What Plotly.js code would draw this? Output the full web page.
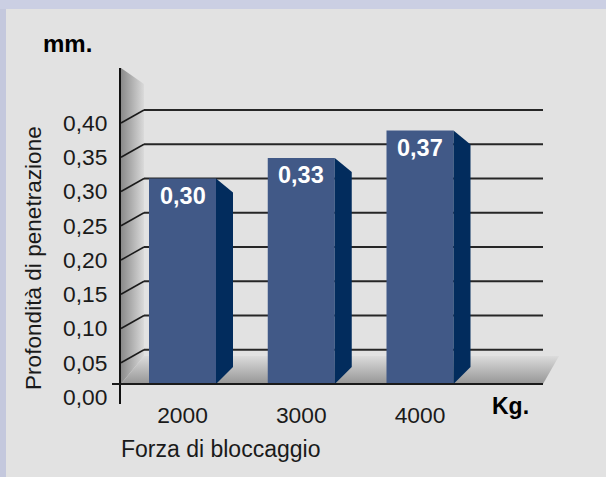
<!DOCTYPE html>
<html>
<head>
<meta charset="utf-8">
<script src="https://cdn.plot.ly/plotly-3.0.1.min.js"></script>
<style>html,body{margin:0;padding:0;background:#e2e2e2;}#chart{width:606px;height:477px;}</style>
</head>
<body>
<div id="chart"></div>
<script>
// ---- data ----
const categories = ['2000', '3000', '4000'];
const values = [0.30, 0.33, 0.37];
const yTicks = [0, 0.05, 0.10, 0.15, 0.20, 0.25, 0.30, 0.35, 0.40];
const yTitle = 'Profondità di penetrazione';
const xTitle = 'Forza di bloccaggio';
const yUnit = 'mm.';
const xUnit = 'Kg.';

// ---- geometry (pixels) ----
const W = 606, H = 477;
const L = 121, R = 560, T = 68, B = 404;
const PW = R - L, PH = B - T;
const ZERO_PX = 384;          // back zero line
const KY = (384 - 110) / 0.40; // px per value unit
const SHIFT = 13;             // front labels sit lower than back gridlines
const CX0 = 182.5, KX = 118.75; // first category centre and spacing
const d = SHIFT / KY;
const Y2 = [(ZERO_PX - B) / KY, (ZERO_PX - T) / KY];
const Y1 = [Y2[0] + d, Y2[1] + d];
const XR = [(L - CX0) / KX, (R - CX0) / KX];
const BW = 67 / KX, SDX = 17 / KX, STOP = 14 / KY, SBOT = 17 / KY;

const px = p => (p - L) / PW;           // paper x
const py = p => (B - p) / PH;           // paper y
const dx = p => (p - CX0) / KX;         // data x
const dyMain = p => (ZERO_PX - p) / KY + d; // main y axis data
const fmt = v => v.toFixed(2).replace('.', ',');
const FONT = 'Liberation Sans, Arial, Helvetica, sans-serif';

const xIdx = categories.map((c, i) => i);
const traces = [];

// wall and floor (main subplot, underneath bars)
const wallPx = [[121, 68], [144, 84], [144, 356], [121, 384], [121, 68]];
traces.push({
  type: 'scatter', x: wallPx.map(p => dx(p[0])), y: wallPx.map(p => dyMain(p[1])),
  xaxis: 'x', yaxis: 'y', mode: 'lines', fill: 'toself', line: {width: 0},
  fillgradient: {type: 'horizontal', colorscale: [[0, '#8a8a8a'], [1, '#dadada']]},
  hoverinfo: 'skip', showlegend: false
});
const floorPx = [[121, 384], [144, 356], [559, 356], [543, 384], [121, 384]];
traces.push({
  type: 'scatter', x: floorPx.map(p => dx(p[0])), y: floorPx.map(p => dyMain(p[1])),
  xaxis: 'x', yaxis: 'y', mode: 'lines', fill: 'toself', line: {width: 0},
  fillgradient: {type: 'vertical', colorscale: [[0, '#969696'], [1, '#dcdcdc']]},
  hoverinfo: 'skip', showlegend: false
});

// bars (overlay subplot)
traces.push({
  type: 'bar', x: xIdx, y: values, width: BW, xaxis: 'x', yaxis: 'y2',
  marker: {color: '#415987', line: {width: 0}}, hoverinfo: 'skip', showlegend: false
});
// bar side faces
values.forEach((v, i) => {
  const xr = xIdx[i] + BW / 2;
  traces.push({
    type: 'scatter', xaxis: 'x', yaxis: 'y2', mode: 'lines',
    x: [xr, xr + SDX, xr + SDX, xr, xr],
    y: [v, v - STOP, SBOT, 0, v],
    fill: 'toself', fillcolor: '#022c5d', line: {width: 0},
    hoverinfo: 'skip', showlegend: false
  });
});

const shapes = [];
// background bands
shapes.push({type: 'rect', xref: 'paper', yref: 'paper', x0: px(0), x1: px(W), y0: py(0), y1: py(9),
  fillcolor: '#cbcfe3', line: {width: 0}, layer: 'below'});
shapes.push({type: 'rect', xref: 'paper', yref: 'paper', x0: px(0), x1: px(6), y0: py(9), y1: py(H),
  fillcolor: '#c4c8dd', line: {width: 0}, layer: 'below'});
// gridlines on back wall
yTicks.slice(1).forEach(v => {
  shapes.push({type: 'line', xref: 'paper', yref: 'y2', x0: px(144), x1: px(543), y0: v, y1: v,
    line: {color: '#262626', width: 2}, layer: 'below'});
  shapes.push({type: 'line', xref: 'paper', yref: 'y2', x0: px(121), x1: px(144), y0: v - d, y1: v,
    line: {color: '#1a1a1a', width: 1.5}, layer: 'above'});
});
// front zero line
shapes.push({type: 'line', xref: 'paper', yref: 'y2', x0: px(112), x1: px(543), y0: 0, y1: 0,
  line: {color: '#1a1a1a', width: 2}, layer: 'above'});

const annotations = [];
values.forEach((v, i) => annotations.push({
  xref: 'x', yref: 'y2', x: xIdx[i], y: v, yshift: -17, text: fmt(v), showarrow: false,
  xanchor: 'center', yanchor: 'middle', font: {family: FONT, size: 23.5, color: '#ffffff', weight: 'bold'}
}));
annotations.push({xref: 'paper', yref: 'paper', x: px(67), y: py(43), text: '<b>' + yUnit + '</b>', showarrow: false,
  xanchor: 'center', yanchor: 'middle', font: {family: FONT, size: 24, color: '#000'}});
annotations.push({xref: 'paper', yref: 'paper', x: px(510), y: py(406), text: '<b>' + xUnit + '</b>', showarrow: false,
  xanchor: 'center', yanchor: 'middle', font: {family: FONT, size: 23, color: '#000'}});
annotations.push({xref: 'paper', yref: 'paper', x: px(119), y: py(449), text: xTitle, showarrow: false,
  xanchor: 'left', yanchor: 'middle', font: {family: FONT, size: 23, color: '#1a1a1a'}});
annotations.push({xref: 'paper', yref: 'paper', x: px(33), y: py(258), text: yTitle, showarrow: false, textangle: -90,
  xanchor: 'center', yanchor: 'middle', font: {family: FONT, size: 22.6, color: '#1a1a1a'}});

const layout = {
  width: W, height: H,
  margin: {l: L, r: W - R, t: T, b: H - B, pad: 0},
  paper_bgcolor: '#e2e2e2', plot_bgcolor: 'rgba(0,0,0,0)',
  separators: ',.',
  showlegend: false,
  xaxis: {range: XR, tickvals: xIdx, ticktext: categories, showgrid: false, zeroline: false,
    showline: false, ticks: '', ticklabelstandoff: -5, fixedrange: true,
    tickfont: {family: FONT, size: 22.8, color: '#1a1a1a'}},
  yaxis: {range: Y1, tickvals: yTicks, tickformat: '.2f', showgrid: false, zeroline: false,
    showline: true, linecolor: '#111', linewidth: 2, ticks: '', ticklabelstandoff: 7, fixedrange: true,
    tickfont: {family: FONT, size: 22.8, color: '#1a1a1a'}},
  yaxis2: {range: Y2, overlaying: 'y', showgrid: false, zeroline: false, showline: false,
    showticklabels: false, ticks: '', fixedrange: true},
  shapes: shapes,
  annotations: annotations
};

Plotly.newPlot('chart', traces, layout, {staticPlot: true, displayModeBar: false});
</script>
</body>
</html>
